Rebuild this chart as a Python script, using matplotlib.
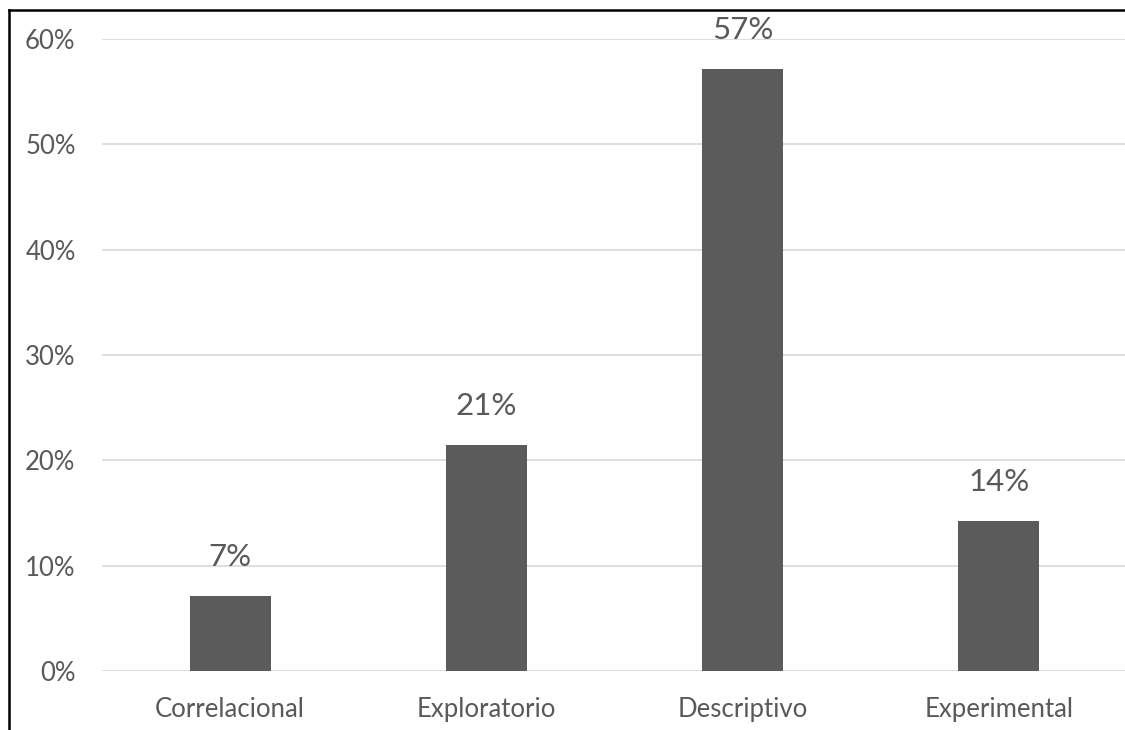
import matplotlib.pyplot as plt
from matplotlib.lines import Line2D
from matplotlib.ticker import PercentFormatter

categorias = ['Correlacional', 'Exploratorio', 'Descriptivo', 'Experimental']
valores = [1 / 14, 3 / 14, 8 / 14, 2 / 14]
etiquetas = ['7%', '21%', '57%', '14%']
yticks = [0, 0.1, 0.2, 0.3, 0.4, 0.5, 0.6]

plt.rcParams['font.family'] = ['Lato', 'DejaVu Sans']
cinza = '#595959'

fig = plt.figure(figsize=(11.25, 7.3), dpi=100)
ax = fig.add_axes([102 / 1125, 59 / 730, 1025 / 1125, 632 / 730])

x = range(len(categorias))
barras = ax.bar(x, valores, width=0.316, color='#5b5b5b', zorder=3)

for b, txt in zip(barras, etiquetas):
    ax.annotate(txt, (b.get_x() + b.get_width() / 2, b.get_height()),
                xytext=(0, 18), textcoords='offset points',
                ha='center', va='bottom', fontsize=22.5, color=cinza)

ax.set_xlim(-0.5, 3.5)
ax.set_ylim(0, 0.6)
ax.set_yticks(yticks)
ax.yaxis.set_major_formatter(PercentFormatter(1.0, decimals=0))
ax.set_xticks(list(x))
ax.set_xticklabels(categorias)
ax.grid(axis='y', color='#dcdcdc', lw=1.3, zorder=0)
ax.tick_params(axis='y', length=0, pad=19, labelsize=18.5, labelcolor=cinza)
ax.tick_params(axis='x', length=0, pad=19, labelsize=18.5, labelcolor=cinza)
for s in ax.spines.values():
    s.set_visible(False)

# moldura do gráfico
fig.add_artist(Line2D([9 / 1125, 9 / 1125], [0, 1 - 10 / 730], color='black', lw=1.8))
fig.add_artist(Line2D([9 / 1125, 1], [1 - 10 / 730, 1 - 10 / 730], color='black', lw=1.8))

fig.savefig('out.png', dpi=100)
